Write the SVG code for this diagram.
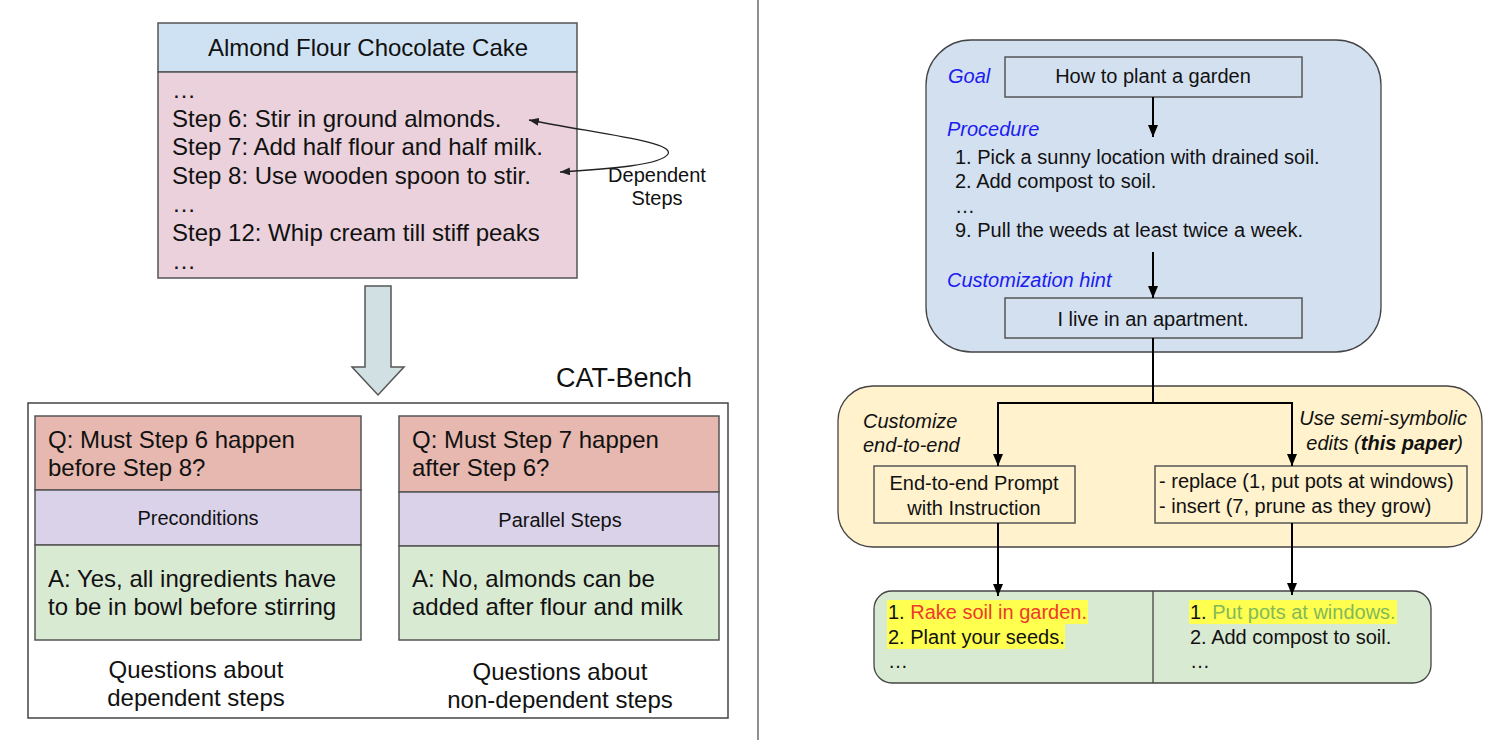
<svg xmlns="http://www.w3.org/2000/svg" width="1510" height="740" viewBox="0 0 1510 740">
<defs>
<style>
text{font-family:"Liberation Sans",Arial,sans-serif;fill:#111}
.t24{font-size:24px}
.t20{font-size:20px}
.t19{font-size:19px}
.it{font-style:italic}
.blue{fill:#1c1cf0;font-style:italic;font-size:20px}
.box{stroke:#555;stroke-width:1.5}
.conn{fill:none;stroke:#000;stroke-width:2}
.thin{fill:none;stroke:#222;stroke-width:1.3}
.mid{text-anchor:middle}
.end{text-anchor:end}
</style>
<marker id="ah" viewBox="0 0 12 12" refX="12" refY="6" markerWidth="12" markerHeight="12" markerUnits="userSpaceOnUse" orient="auto"><path d="M0,1 L12,6 L0,11 z" fill="#000"/></marker>
<marker id="ahs" viewBox="0 0 10 8" refX="10" refY="4" markerWidth="10" markerHeight="8" markerUnits="userSpaceOnUse" orient="auto-start-reverse"><path d="M0,0 L10,4 L0,8 z" fill="#222"/></marker>
</defs>
<rect width="1510" height="740" fill="#fff"/>
<line x1="758" y1="0" x2="758" y2="740" stroke="#444" stroke-width="1.2"/>

<g id="recipe">
<rect x="158" y="23" width="419" height="49" fill="#cfe2f3" class="box"/>
<rect x="158" y="72" width="419" height="206" fill="#ead1dc" class="box"/>
<text x="368" y="56" class="t24 mid">Almond Flour Chocolate Cake</text>
<text x="172" y="98" class="t24">…</text>
<text x="172" y="127" class="t24">Step 6: Stir in ground almonds.</text>
<text x="172" y="155" class="t24">Step 7: Add half flour and half milk.</text>
<text x="172" y="184" class="t24">Step 8: Use wooden spoon to stir.</text>
<text x="172" y="212" class="t24">…</text>
<text x="172" y="241" class="t24">Step 12: Whip cream till stiff peaks</text>
<text x="172" y="269" class="t24">…</text>
</g>

<g id="dependent-label">
<text x="657" y="182" class="t20 mid">Dependent</text>
<text x="657" y="205" class="t20 mid">Steps</text>
</g>

<g id="big-arrow">
<polygon points="365,286 391,286 391,367 404,367 378,395 352,367 365,367" fill="#d0e0e3" stroke="#555" stroke-width="1.5"/>
</g>

<g id="cat-bench">
<text x="624" y="387" style="font-size:27px" class="mid">CAT-Bench</text>
<rect x="28" y="403" width="700" height="315" fill="#fff" stroke="#444" stroke-width="1.5"/>
</g>

<g id="q-left">
<rect x="35" y="416" width="326" height="74" fill="#e6b8af" class="box"/>
<rect x="35" y="490" width="326" height="55" fill="#d9d2e9" class="box"/>
<rect x="35" y="545" width="326" height="95" fill="#d9ead3" class="box"/>
<text x="48" y="448" class="t24">Q: Must Step 6 happen</text>
<text x="48" y="476" class="t24">before Step 8?</text>
<text x="198" y="525" class="t20 mid">Preconditions</text>
<text x="48" y="587" class="t24">A: Yes, all ingredients have</text>
<text x="48" y="615" class="t24">to be in bowl before stirring</text>
<text x="196" y="678" class="t24 mid">Questions about</text>
<text x="196" y="706" class="t24 mid">dependent steps</text>
</g>

<g id="q-right">
<rect x="399" y="416" width="320" height="76" fill="#e6b8af" class="box"/>
<rect x="399" y="492" width="320" height="54" fill="#d9d2e9" class="box"/>
<rect x="399" y="546" width="320" height="94" fill="#d9ead3" class="box"/>
<text x="412" y="448" class="t24">Q: Must Step 7 happen</text>
<text x="412" y="476" class="t24">after Step 6?</text>
<text x="560" y="527" class="t20 mid">Parallel Steps</text>
<text x="412" y="587" class="t24">A: No, almonds can be</text>
<text x="412" y="615" class="t24">added after flour and milk</text>
<text x="560" y="680" class="t24 mid">Questions about</text>
<text x="560" y="708" class="t24 mid">non-dependent steps</text>
</g>

<g id="input-panel">
<rect x="926" y="40" width="455" height="312" rx="45" ry="45" fill="#d3e0f0" stroke="#444" stroke-width="1.3"/>
<text x="948" y="83" class="blue">Goal</text>
<text x="947" y="136" class="blue">Procedure</text>
<text x="955" y="164" class="t20">1. Pick a sunny location with drained soil.</text>
<text x="955" y="188" class="t20">2. Add compost to soil.</text>
<text x="955" y="213" class="t20">…</text>
<text x="955" y="237" class="t20">9. Pull the weeds at least twice a week.</text>
<text x="947" y="287" class="blue">Customization hint</text>
</g>

<g id="goal-box">
<rect x="1005" y="57" width="297" height="40" fill="#d3e0f0" class="box"/>
<text x="1153" y="83" class="t20 mid">How to plant a garden</text>
</g>

<g id="hint-box">
<rect x="1005" y="298" width="297" height="40" fill="#d3e0f0" class="box"/>
<text x="1153" y="326" class="t20 mid">I live in an apartment.</text>
</g>

<g id="method-panel">
<rect x="838" y="386" width="644" height="161" rx="35" ry="35" fill="#fff2cc" stroke="#444" stroke-width="1.3"/>
<text x="863" y="428" class="t20 it">Customize</text>
<text x="863" y="452" class="t20 it">end-to-end</text>
<text x="1467" y="425" class="t20 it end">Use semi-symbolic</text>
<text x="1463" y="450" class="t20 it end">edits (<tspan font-weight="bold">this paper</tspan>)</text>
</g>

<g id="e2e-box">
<rect x="874" y="466" width="201" height="57" fill="#fff2cc" class="box"/>
<text x="974" y="490" class="t20 mid">End-to-end Prompt</text>
<text x="974" y="515" class="t20 mid">with Instruction</text>
</g>

<g id="edits-box">
<rect x="1155" y="466" width="312" height="57" fill="#fff2cc" class="box"/>
<text x="1159" y="488" class="t20">- replace (1, put pots at windows)</text>
<text x="1159" y="513" class="t20">- insert (7, prune as they grow)</text>
</g>

<g id="output-box">
<rect x="874" y="591" width="557" height="92" rx="18" ry="18" fill="#d9ead3" stroke="#444" stroke-width="1.3"/>
<line x1="1153" y1="591" x2="1153" y2="683" stroke="#444" stroke-width="1.3"/>
<rect x="887" y="600" width="201" height="24" fill="#ffff4f"/>
<rect x="887" y="624" width="178" height="25" fill="#ffff4f"/>
<rect x="1189" y="600" width="208" height="24" fill="#ffff4f"/>
<text x="888" y="619" class="t20">1. <tspan fill="#ee3b2b">Rake soil in garden.</tspan></text>
<text x="888" y="644" class="t20">2. Plant your seeds.</text>
<text x="888" y="668" class="t20">…</text>
<text x="1190" y="619" class="t20">1. <tspan fill="#82b95a">Put pots at windows.</tspan></text>
<text x="1190" y="644" class="t20">2. Add compost to soil.</text>
<text x="1190" y="668" class="t20">…</text>
</g>

<g id="connectors">
<path d="M529,120 C600,134 675,142 668,154 C661,165 610,169 560,172" class="thin" marker-start="url(#ahs)" marker-end="url(#ahs)"/>
<line x1="1153" y1="97" x2="1153" y2="137" class="conn" marker-end="url(#ah)"/>
<line x1="1153" y1="252" x2="1153" y2="298" class="conn" marker-end="url(#ah)"/>
<path d="M1153,338 L1153,403 L998,403 L998,466" class="conn" marker-end="url(#ah)"/>
<path d="M1153,403 L1292,403 L1292,466" class="conn" marker-end="url(#ah)"/>
<line x1="998" y1="523" x2="998" y2="596" class="conn" marker-end="url(#ah)"/>
<line x1="1292" y1="523" x2="1292" y2="595" class="conn" marker-end="url(#ah)"/>
</g>
</svg>
